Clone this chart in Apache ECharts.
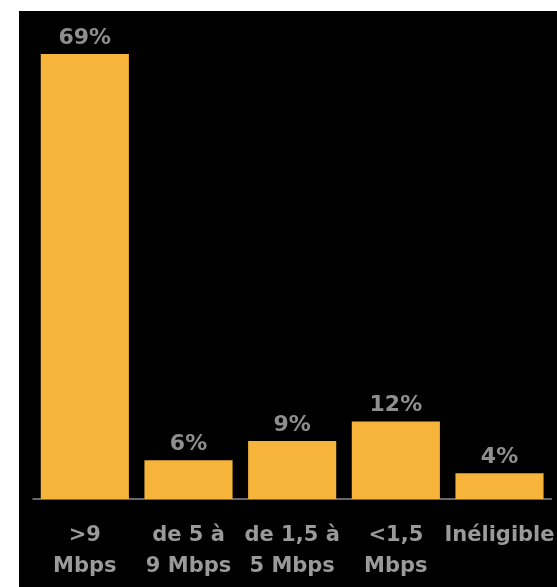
<!DOCTYPE html>
<html>
<head>
<meta charset="utf-8">
<script src="https://cdn.jsdelivr.net/npm/echarts@6/dist/echarts.min.js"></script>
<style>
  html, body { margin: 0; padding: 0; background: #ffffff; width: 557px; height: 587px; overflow: hidden; }
  #chart { position: absolute; left: 19px; top: 11px; width: 538px; height: 576px; background: #000000; }
</style>
</head>
<body>
<div id="chart"></div>
<script>
const categories = [">9\nMbps", "de 5 à\n9 Mbps", "de 1,5 à\n5 Mbps", "<1,5\nMbps", "Inéligible"];
const values = [69, 6, 9, 12, 4];

const chart = echarts.init(document.getElementById('chart'), null, { renderer: 'canvas' });
chart.setOption({
  backgroundColor: '#000000',
  animation: false,
  grid: { left: 14, right: 0, top: 43, bottom: 88, containLabel: false },
  xAxis: {
    type: 'category',
    data: categories,
    axisLine: { show: true, lineStyle: { color: '#8a8a8a', width: 1.5 } },
    axisTick: { show: false },
    axisLabel: {
      interval: 0,
      color: '#9a9a9a',
      fontFamily: 'DejaVu Sans',
      fontWeight: 'bold',
      fontSize: 21,
      lineHeight: 31,
      margin: 21
    }
  },
  yAxis: {
    type: 'value',
    min: 0,
    max: 69,
    show: false,
    splitLine: { show: false }
  },
  series: [{
    type: 'bar',
    data: values,
    barCategoryGap: '15%',
    itemStyle: { color: '#F6B53A' },
    label: {
      show: true,
      position: 'top',
      distance: 5,
      formatter: '{c}%',
      color: '#8f8f8f',
      fontFamily: 'DejaVu Sans',
      fontWeight: 'bold',
      fontSize: 22
    }
  }]
});
</script>
</body>
</html>
